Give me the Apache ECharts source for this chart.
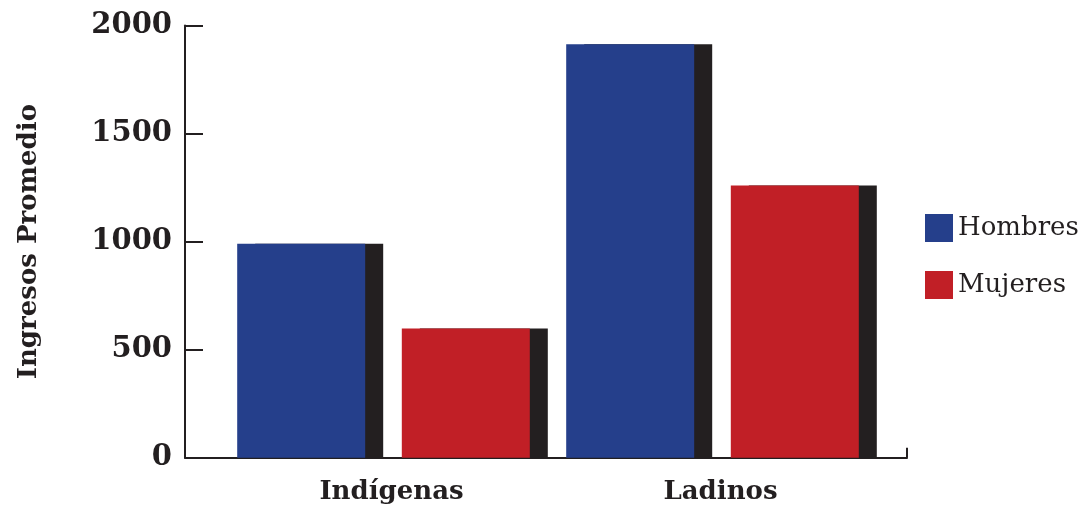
<!DOCTYPE html>
<html>
<head>
<meta charset="utf-8">
<script src="https://cdn.jsdelivr.net/npm/echarts@6/dist/echarts.min.js"></script>
<style>html,body{margin:0;padding:0;background:#fff;}#c{width:1083px;height:508px;}</style>
</head>
<body>
<div id="c"></div>
<script>
const categories = ['Indígenas', 'Ladinos'];
const hombres = [990, 1913];
const mujeres = [598, 1260];
const yTicks = [0, 500, 1000, 1500, 2000];
const seriesNames = ['Hombres', 'Mujeres'];
const yName = 'Ingresos Promedio';

const ink = '#231f20';
const serif = 'DejaVu Serif';
const shadow = { shadowColor: ink, shadowOffsetX: 18, shadowOffsetY: 0, shadowBlur: 0 };

const chart = echarts.init(document.getElementById('c'), null, { renderer: 'canvas' });
chart.setOption({
  animation: false,
  backgroundColor: '#fff',
  grid: [
    { left: 185, right: 176, top: 25.5, bottom: 50.3 },
    { left: 219, right: 206, top: 25.5, bottom: 50.3 }
  ],
  legend: {
    orient: 'vertical', left: 920, top: 209,
    itemWidth: 28, itemHeight: 28, itemGap: 29, icon: 'rect',
    itemStyle: { shadowBlur: 0, shadowOffsetX: 0, shadowColor: 'transparent', borderWidth: 0 },
    textStyle: { fontFamily: serif, fontSize: 26, color: ink, padding: [0, 0, 0, 0] },
    data: seriesNames
  },
  xAxis: [
    { gridIndex: 0, type: 'value', min: 0, max: 1, interval: 1,
      axisLine: { show: true, lineStyle: { color: ink, width: 2 } },
      axisTick: { show: true, inside: true, length: 10, lineStyle: { color: ink, width: 2 } },
      axisLabel: { show: false }, splitLine: { show: false } },
    { gridIndex: 1, type: 'category', data: categories,
      axisLine: { show: false }, axisTick: { show: false }, splitLine: { show: false },
      axisLabel: { fontFamily: serif, fontWeight: 'bold', fontSize: 26, color: ink, margin: 22, padding: [0, 0, 0, 16] } }
  ],
  yAxis: [
    { gridIndex: 0, type: 'value', min: yTicks[0], max: yTicks[yTicks.length - 1], interval: yTicks[1] - yTicks[0],
      name: yName, nameLocation: 'middle', nameGap: 143, nameRotate: 90,
      nameTextStyle: { fontFamily: serif, fontWeight: 'bold', fontSize: 26, color: ink },
      axisLine: { show: true, lineStyle: { color: ink, width: 2 } },
      axisTick: { show: true, inside: true, length: 18, lineStyle: { color: ink, width: 2 } },
      axisLabel: { fontFamily: serif, fontWeight: 'bold', fontSize: 29, color: ink, margin: 13,
        formatter: v => String(v) },
      splitLine: { show: false } },
    { gridIndex: 1, type: 'value', min: yTicks[0], max: yTicks[yTicks.length - 1], show: false, splitLine: { show: false } }
  ],
  series: [
    { name: seriesNames[0], type: 'bar', xAxisIndex: 1, yAxisIndex: 1, data: hombres,
      barWidth: 128, barGap: '28.6%',
      itemStyle: Object.assign({ color: '#253f8b' }, shadow) },
    { name: seriesNames[1], type: 'bar', xAxisIndex: 1, yAxisIndex: 1, data: mujeres,
      barWidth: 128, barGap: '28.6%',
      itemStyle: Object.assign({ color: '#c11f26' }, shadow) }
  ]
});
</script>
</body>
</html>
